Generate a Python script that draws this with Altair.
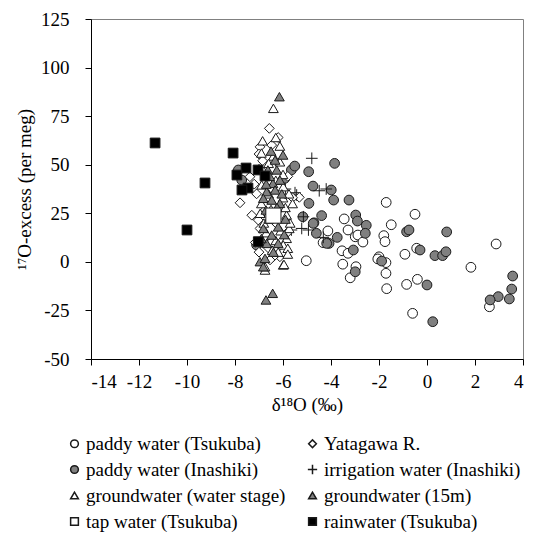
import altair as alt
import pandas as pd

series_names = [
    "paddy water (Tsukuba)", "Yatagawa R.",
    "paddy water (Inashiki)", "irrigation water (Inashiki)",
    "groundwater (water stage)", "groundwater (15m)",
    "tap water (Tsukuba)", "rainwater (Tsukuba)",
]
x_ticks = [-14, -12, -10, -8, -6, -4, -2, 0, 2, 4]
y_ticks = [-50, -25, 0, 25, 50, 75, 100, 125]

tsukuba_x = [-1.7, -0.5, -1.49, -1.8, -1.75, -3.45, -3.29, -4.13, -4.33, -3.54, -3.51, -2.96, -3.2,
             -2.99, -2.88, -2.67, -5.03, -2.0, -1.71, -1.71, -1.68, -0.92, -0.43, -0.4, -0.85, -0.6,
             1.83, 2.88, 2.6, -3.29, -2.05]
tsukuba_y = [30.6, 24.5, 19.1, 13.5, 10.4, 22.1, 16.4, 15.9, 9.9, 5.7, -1.2, -2.5, -8.2,
             12.9, 13.8, 10.2, 0.6, 2.6, -0.4, -5.9, -13.8, 3.9, 7.0, -9.0, -11.6, -26.5,
             -2.8, 9.2, -23.1, 4.4, 1.5]

inashiki_x = [-3.85, -5.65, -5.51, -4.93, -4.75, -3.99, -3.89, -3.25, -4.92, -4.39, -5.17, -4.71,
              -4.61, -4.08, -3.74, -2.97, -2.9, -2.53, -2.57, -3.07, -2.99, -1.89, -0.85, -0.75,
              -0.29, 0.0, 0.24, 0.82, 0.33, 0.65, 0.79, 3.57, 3.53, 3.43, 2.97, 2.63, -7.1, -7.86,
              -7.72, -5.92, -4.74, -4.18]
inashiki_y = [50.7, 47.3, 49.3, 46.4, 39.0, 37.0, 31.8, 31.8, 30.1, 23.8, 23.2, 20.1,
              14.7, 9.5, 12.6, 24.1, 21.0, 18.8, 14.7, 6.1, -5.1, 0.4, 15.5, 16.4,
              6.1, -11.9, -30.8, 15.4, 3.2, 3.2, 5.2, -7.3, -14.0, -19.1, -17.9, -19.6, 8.7, 47.3,
              42.1, 43.0, 19.8, 9.5]

irrigation_x = [-4.8, -4.49, -4.2, -5.5, -5.15, -5.22, -4.94, -4.32, -5.65, -5.9, -5.43]
irrigation_y = [53.3, 36.6, 37.5, 35.6, 23.2, 17.2, 16.4, 12.6, 16.4, 37.5, 34.4]

yatagawa_x = [-6.57, -6.96, -6.47, -7.0, -7.38, -7.79, -6.13, -6.4, -7.03, -6.96, -5.85, -5.32,
              -6.54, -7.2, -6.9, -6.8, -7.1, -6.75, -6.3, -5.6, -7.3, -6.6, -6.0, -6.85, -5.8,
              -7.0, -6.2, -6.5, -6.1, -7.15]
yatagawa_y = [68.7, 59.2, 60.1, 55.5, 43.8, 30.4, 2.6, 2.6, 21.5, 17.2, 14.7, 33.2,
              1.0, 40.0, 47.0, 26.0, 35.0, 12.0, 20.0, 33.0, 24.0, 7.0, 5.0, 52.0, 44.0,
              5.0, 64.0, 38.0, 28.0, 10.0]

gw_stage_x = [-6.4, -6.85, -6.13, -6.4, -6.13, -6.6, -6.89, -5.99, -5.85, -5.74, -5.85, -5.99,
              -6.75, -6.54, -5.99, -5.8, -6.75, -5.96, -6.9, -6.7, -6.3, -6.0, -5.9, -6.95, -6.7,
              -6.3, -5.7, -6.2, -6.6, -6.5, -5.6, -6.0, -7.0, -6.8, -6.1, -6.45, -5.8, -5.75,
              -6.3, -6.9]
gw_stage_y = [79.0, 62.3, 59.6, 54.5, 51.5, 50.7, 39.6, 38.7, 24.1, 17.2, 12.1, -1.6,
              -4.2, 22.4, 8.7, 7.0, -2.5, -1.3, 30.0, 45.0, 42.0, 33.0, 28.0, 25.0, 15.0,
              11.0, 20.0, 5.0, 35.0, 27.0, 30.0, 45.0, 48.0, 20.0, 16.0, 6.0, 4.0, 35.0,
              64.0, 56.0]

gw_15m_x = [-6.15, -6.43, -6.71, -6.33, -6.63, -6.26, -6.13, -6.42, -6.68, -6.33, -6.82, -6.47,
            -6.13, -6.71, -6.82, -6.2, -6.47, -6.68, -6.2, -6.96, -6.75, -6.82, -6.0, -6.5,
            -5.9, -6.6, -6.3, -6.05, -6.55, -6.9, -6.4, -5.95, -6.7, -6.25]
gw_15m_y = [85.0, -16.2, -19.6, 52.4, 47.3, 47.3, 42.1, 40.4, 36.1, 37.0, 32.7, 31.8,
            30.1, 26.7, 17.2, 18.0, 13.8, 9.5, 9.5, 0.1, 1.8, -2.5, 55.0, 57.0,
            22.0, 22.0, 25.0, 35.0, 44.0, 12.0, 5.0, 14.0, 40.0, 28.0]

tap_x = [-6.4]
tap_y = [23.8]

rain_x = [-11.33, -9.25, -10.0, -8.08, -7.54, -7.92, -7.04, -6.75, -7.46, -7.71, -7.03]
rain_y = [61.2, 40.6, 16.4, 56.0, 48.3, 44.7, 47.3, 44.2, 38.0, 37.0, 10.4]

shapes = ["circle", "diamond", "circle", "M-1.2,0H1.2M0,-1.2V1.2",
          "triangle-up", "triangle-up", "square", "square"]
fills = ["white", "white", "#808080", "transparent", "white", "#808080", "white", "black"]
strokes = ["#1a1a1a"] * 8

draw_order = [
    ("paddy water (Tsukuba)", tsukuba_x, tsukuba_y),
    ("paddy water (Inashiki)", inashiki_x, inashiki_y),
    ("irrigation water (Inashiki)", irrigation_x, irrigation_y),
    ("Yatagawa R.", yatagawa_x, yatagawa_y),
    ("groundwater (water stage)", gw_stage_x, gw_stage_y),
    ("groundwater (15m)", gw_15m_x, gw_15m_y),
    ("rainwater (Tsukuba)", rain_x, rain_y),
    ("tap water (Tsukuba)", tap_x, tap_y),
]
rows = []
for name, xs, ys in draw_order:
    for xv, yv in zip(xs, ys):
        rows.append({"series": name, "d18O": xv, "excess": yv, "draw": len(rows)})
df = pd.DataFrame(rows)
tap_df = pd.DataFrame({"d18O": tap_x, "excess": tap_y})

FONT = "'Liberation Serif', 'Times New Roman', Times, serif"

legend = alt.Legend(
    title=None, orient="none", legendX=-26, legendY=415, columns=2, direction="horizontal",
    columnPadding=17, rowPadding=6, labelFont=FONT, labelFontSize=19,
    labelColor="black", symbolSize=60, labelOffset=2, labelLimit=400,
)

x_enc = alt.X("d18O:Q", scale=alt.Scale(domain=[-14, 4], nice=False, zero=False),
              axis=alt.Axis(values=x_ticks, title="δ¹⁸O (‰)", labelPadding=7, titlePadding=4,
                            labelExpr="'' + datum.value"))
y_enc = alt.Y("excess:Q", scale=alt.Scale(domain=[-50, 125], nice=False, zero=False),
              axis=alt.Axis(values=y_ticks, title="¹⁷O-excess (per meg)", labelPadding=16,
                            titlePadding=6, labelExpr="'' + datum.value"))

points = alt.Chart(df).mark_point(filled=True, opacity=1, fillOpacity=1, strokeWidth=1, size=95).encode(
    x=x_enc, y=y_enc,
    shape=alt.Shape("series:N", scale=alt.Scale(domain=series_names, range=shapes), legend=legend),
    fill=alt.Fill("series:N", scale=alt.Scale(domain=series_names, range=fills), legend=legend),
    stroke=alt.Stroke("series:N", scale=alt.Scale(domain=series_names, range=strokes), legend=legend),
    order=alt.Order("draw:Q"),
)

tap = alt.Chart(tap_df).mark_point(shape="square", filled=True, fill="white", stroke="#1a1a1a",
                                   strokeWidth=1, opacity=1, size=230).encode(
    x=alt.X("d18O:Q"), y=alt.Y("excess:Q"),
)

chart = alt.layer(points, tap).properties(
    width=432, height=340,
    autosize=alt.AutoSizeParams(type="none"),
    padding={"left": 91, "top": 19, "right": 13, "bottom": 174},
).configure_view(
    stroke="#808080", strokeWidth=1,
).configure_axis(
    grid=False, domainColor="black", tickColor="black", tickSize=6,
    labelFont=FONT, labelFontSize=19, labelColor="black",
    titleFont=FONT, titleFontSize=19, titleFontWeight="normal", titleColor="black",
)

chart.save("out.html", embed_options={"renderer": "svg", "actions": False})
